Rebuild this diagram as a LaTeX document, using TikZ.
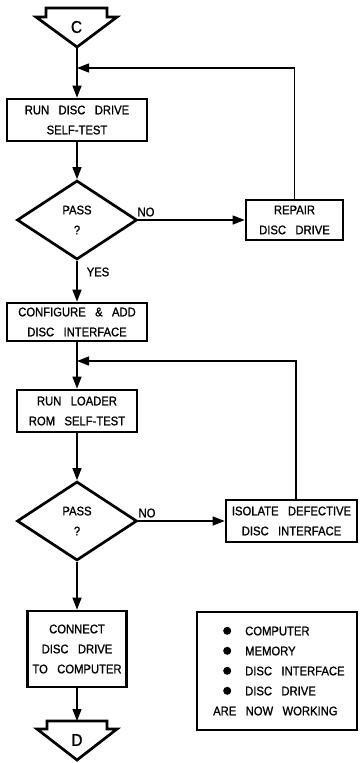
\documentclass[tikz,border=0pt]{standalone}
\usepackage{fontspec}
\setmainfont{Liberation Sans}[FakeStretch=0.9,WordSpace=3,FakeBold=1.1]
\usetikzlibrary{shapes.geometric,arrows.meta}
\newcommand{\legbullet}{\hspace*{10pt}\makebox[22pt][l]{\tikz[baseline=-4.5pt,x=1pt,y=1pt]\fill (4,0) circle (4pt);}}
\begin{document}
\begin{tikzpicture}[x=1pt,y=-1pt,
  font=\fontsize{12.5}{20}\selectfont,
  box/.style={draw,line width=2.7pt,inner sep=0pt,align=center},
  dia/.style={draw,diamond,line width=2.7pt,minimum width=120pt,minimum height=79pt,inner sep=0pt,align=center},
  offpage/.style={line width=2.7pt,line join=miter},
  big/.style={font=\fontsize{17}{17}\selectfont,inner sep=0pt},
  conn/.style={line width=1.3pt},
  arr/.style={conn,-{Triangle[length=12pt,width=9pt]}},
  lbl/.style={inner sep=0pt}]
\useasboundingbox (0,0) rectangle (359,763);

% off-page connector C
\draw[offpage] (46,8) -- (107,8) -- (107,17) -- (117,17) -- (77,47) -- (36,17) -- (46,17) -- cycle;
\node[big] (C) at (76.5,27) {C};
\coordinate (Ctip) at (77,47);
\coordinate (j1) at (77,68);

\node[box,minimum width=140pt,minimum height=42pt] (b1) at (77,120) {RUN DISC DRIVE\\SELF-TEST};
\node[dia] (d1) at (77,220) {PASS\\?};
\node[box,minimum width=97pt,minimum height=40pt] (rep) at (294.5,220) {REPAIR\\DISC DRIVE};
\node[lbl] (no1) at (146,212) {NO};
\node[lbl] (yes1) at (98,272) {YES};
\node[box,minimum width=140pt,minimum height=38pt] (b2) at (77,322) {CONFIGURE \& ADD\\DISC INTERFACE};
\coordinate (j2) at (77,361);
\node[box,minimum width=120pt,minimum height=42pt] (b3) at (77,411) {RUN LOADER\\ROM SELF-TEST};
\node[dia] (d2) at (77,521) {PASS\\?};
\node[box,minimum width=131pt,minimum height=42pt] (iso) at (291.5,521) {ISOLATE DEFECTIVE\\DISC INTERFACE};
\node[lbl] (no2) at (147,513) {NO};
\node[box,minimum width=99pt,minimum height=76pt] (b4) at (77,649) {CONNECT\\DISC DRIVE\\TO COMPUTER};

% off-page connector D
\draw[offpage] (47,721) -- (107,721) -- (107,729) -- (117,729) -- (77,760) -- (37,729) -- (47,729) -- cycle;
\node[big] (D) at (77,740) {D};
\coordinate (Dtop) at (77,721);

% legend
\node[draw,line width=1.2pt,minimum width=160pt,minimum height=118pt] (lg) at (277,671) {};
\node[align=left,inner sep=0pt,anchor=west] (lgt) at (213,671)
 {\legbullet COMPUTER\\
  \legbullet MEMORY\\
  \legbullet DISC INTERFACE\\
  \legbullet DISC DRIVE\\
  ARE NOW WORKING};

% connectors
\draw[arr] (Ctip) -- (b1.north);
\draw[arr] (rep.north) |- (j1);
\draw[arr] (b1.south) -- (d1.north);
\draw[arr] (d1.east) -- (rep.west);
\draw[arr] (d1.south) -- (b2.north);
\draw[arr] (b2.south) -- (b3.north);
\draw[arr] ([xshift=4.5pt]iso.north) |- (j2);
\draw[arr] (b3.south) -- (d2.north);
\draw[arr] (d2.east) -- (iso.west);
\draw[arr] (d2.south) -- (b4.north);
\draw[arr] (b4.south) -- (Dtop);
\end{tikzpicture}
\end{document}
